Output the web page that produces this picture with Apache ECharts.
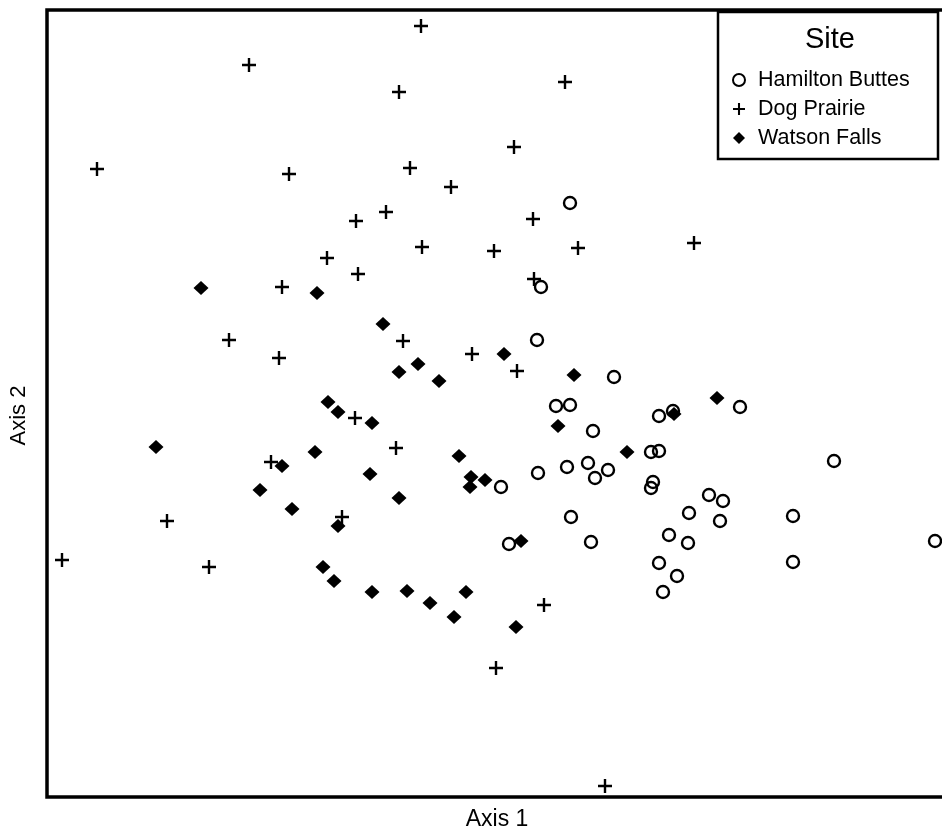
<!DOCTYPE html>
<html>
<head>
<meta charset="utf-8">
<script src="https://cdn.jsdelivr.net/npm/echarts@6/dist/echarts.min.js"></script>
<style>
  html, body { margin: 0; padding: 0; background: #fff; }
  #chart { width: 942px; height: 835px; }
</style>
</head>
<body>
<div id="chart"></div>
<script>
// Ordination scores (arbitrary units)
const seriesNames = ['Hamilton Buttes', 'Dog Prairie', 'Watson Falls'];

const hamiltonX = [5.23, 4.94, 4.90, 5.67, 5.09, 5.23, 6.12, 6.26, 6.93, 5.46, 6.04, 6.12, 7.87, 4.91, 5.20, 5.41, 5.48, 5.61, 4.54, 6.06, 6.04, 6.62, 6.76, 6.42, 7.46, 5.24, 6.73, 6.22, 6.41, 5.44, 4.62, 8.88, 6.12, 7.46, 6.30, 6.16];
const hamiltonY = [5.94, 5.10, 4.57, 4.20, 3.91, 3.92, 3.81, 3.86, 3.90, 3.66, 3.45, 3.46, 3.36, 3.24, 3.30, 3.34, 3.19, 3.27, 3.10, 3.15, 3.09, 3.02, 2.96, 2.84, 2.81, 2.80, 2.76, 2.62, 2.54, 2.55, 2.53, 2.56, 2.34, 2.35, 2.21, 2.05];

const dogX = [3.74, 2.02, 5.18, 3.52, 4.67, 0.50, 2.42, 3.63, 4.04, 3.39, 3.09, 4.86, 5.31, 3.75, 4.47, 6.47, 2.80, 3.11, 4.87, 2.35, 1.82, 3.56, 2.32, 4.25, 4.70, 3.08, 3.49, 2.24, 2.95, 1.20, 0.15, 1.62, 4.97, 4.49, 5.58];
const dogY = [7.71, 7.32, 7.15, 7.05, 6.50, 6.28, 6.23, 6.29, 6.10, 5.85, 5.76, 5.78, 5.49, 5.50, 5.46, 5.54, 5.39, 5.23, 5.18, 5.10, 4.57, 4.56, 4.39, 4.43, 4.26, 3.79, 3.49, 3.35, 2.80, 2.76, 2.37, 2.30, 1.92, 1.29, 0.11];

const watsonX = [1.54, 2.70, 3.36, 3.71, 3.52, 3.92, 4.57, 5.27, 2.81, 2.91, 3.25, 6.70, 6.27, 5.11, 1.09, 2.68, 4.12, 5.80, 2.35, 3.23, 4.24, 4.23, 4.38, 2.13, 3.52, 2.45, 2.91, 4.74, 2.76, 2.87, 3.25, 3.60, 3.83, 4.19, 4.07, 4.69];
const watsonY = [5.09, 5.04, 4.73, 4.33, 4.25, 4.16, 4.43, 4.22, 3.95, 3.85, 3.74, 3.99, 3.83, 3.71, 3.50, 3.45, 3.41, 3.45, 3.31, 3.23, 3.20, 3.10, 3.17, 3.07, 2.99, 2.88, 2.71, 2.56, 2.30, 2.16, 2.05, 2.06, 1.94, 2.05, 1.80, 1.70];

const axis1Range = [0, 9.0];
const axis2Range = [0, 7.87];

const FONT = 'Liberation Sans, Arial, Helvetica, sans-serif';
const PLUS = 'path://M5.8,0H8.2V5.8H14V8.2H8.2V14H5.8V8.2H0V5.8H5.8Z';

function pairs(xs, ys) { return xs.map((x, i) => [x, ys[i]]); }

const chart = echarts.init(document.getElementById('chart'), null, { renderer: 'canvas' });

chart.setOption({
  animation: false,
  backgroundColor: '#fff',
  grid: {
    left: 47, top: 10, width: 900, bottom: 38,
    outerBoundsMode: 'none', containLabel: false,
    show: true, borderColor: '#000', borderWidth: 3.5, backgroundColor: 'transparent'
  },
  xAxis: {
    type: 'value', min: axis1Range[0], max: axis1Range[1],
    axisLine: { show: false }, axisTick: { show: false }, axisLabel: { show: false }, splitLine: { show: false },
    name: 'Axis 1', nameLocation: 'middle', nameGap: 11,
    nameTextStyle: { fontFamily: FONT, fontSize: 23, color: '#000' }
  },
  yAxis: {
    type: 'value', min: axis2Range[0], max: axis2Range[1],
    axisLine: { show: false }, axisTick: { show: false }, axisLabel: { show: false }, splitLine: { show: false },
    name: 'Axis 2', nameLocation: 'middle', nameGap: 17,
    nameTextStyle: { fontFamily: FONT, fontSize: 22, color: '#000', padding: [0, 24, 0, 0] }
  },
  graphic: [
    { type: 'rect', z: 10, shape: { x: 718, y: 12, width: 220, height: 147 },
      style: { fill: '#fff', stroke: '#000', lineWidth: 2.5 } },
    { type: 'text', z: 11, x: 830, y: 40,
      style: { text: 'Site', font: '29px ' + FONT, fill: '#000', align: 'center', verticalAlign: 'middle' } }
  ],
  legend: {
    z: 12,
    orient: 'vertical', left: 727, top: 64,
    itemWidth: 12, itemHeight: 12, itemGap: 7,
    textStyle: { fontFamily: FONT, fontSize: 21.5, color: '#000', padding: [0, 0, 0, 8] },
    data: [
      { name: seriesNames[0], icon: 'circle', itemStyle: { color: 'rgba(255,255,255,0)', borderColor: '#000', borderWidth: 2 } },
      { name: seriesNames[1], icon: PLUS, itemStyle: { color: '#000', borderWidth: 0 } },
      { name: seriesNames[2], icon: 'diamond', itemStyle: { color: '#000', borderWidth: 0 } }
    ]
  },
  series: [
    {
      name: seriesNames[0], type: 'scatter', data: pairs(hamiltonX, hamiltonY),
      symbol: 'circle', symbolSize: 12,
      itemStyle: { color: 'rgba(255,255,255,0)', borderColor: '#000', borderWidth: 2.4, opacity: 1 },
      emphasis: { disabled: true }
    },
    {
      name: seriesNames[1], type: 'scatter', data: pairs(dogX, dogY),
      symbol: PLUS, symbolSize: 14,
      itemStyle: { color: '#000', opacity: 1 },
      emphasis: { disabled: true }
    },
    {
      name: seriesNames[2], type: 'scatter', data: pairs(watsonX, watsonY),
      symbol: 'diamond', symbolSize: [15, 14],
      itemStyle: { color: '#000', opacity: 1 },
      emphasis: { disabled: true }
    }
  ]
});
</script>
</body>
</html>
